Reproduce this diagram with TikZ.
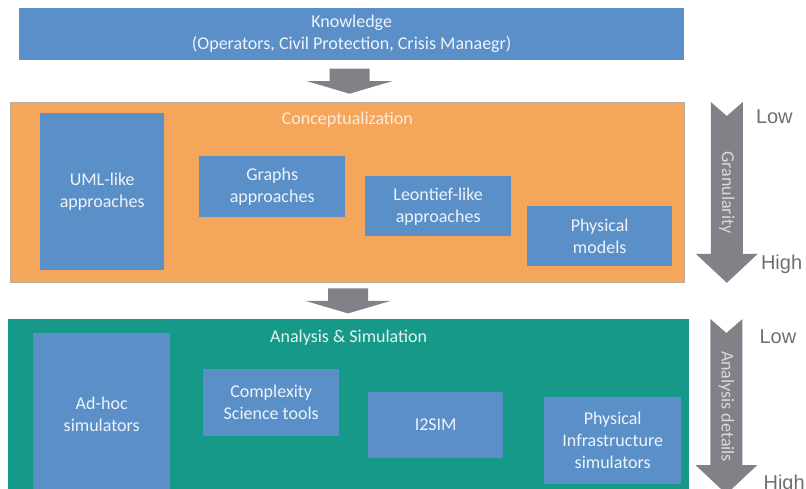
\documentclass[tikz,border=0pt]{standalone}
\usepackage{fontspec}
\setmainfont{Carlito}
\newfontfamily\lvlfont{Liberation Sans}
\usepackage{tikz}
\usetikzlibrary{positioning, calc}

\definecolor{boxblue}{HTML}{5B8FC8}
\definecolor{boxtext}{HTML}{EEF3FA}
\definecolor{concorange}{HTML}{F6A65B}
\definecolor{concline}{HTML}{B9ADA3}
\definecolor{conctext}{HTML}{FDEBD8}
\definecolor{anlteal}{HTML}{17998A}
\definecolor{anltext}{HTML}{E3F3F0}
\definecolor{arrowgray}{HTML}{808287}
\definecolor{sidetext}{HTML}{DADADA}
\definecolor{lvlgray}{HTML}{6E6E6E}

\begin{document}
\begin{tikzpicture}[
    x=1pt, y=1pt,
    band/.style={rectangle, anchor=north west, inner sep=0pt, align=center, font=\fontsize{18}{22}\selectfont},
    box/.style={rectangle, fill=boxblue, inner sep=0pt, align=center, text=boxtext, font=\fontsize{18}{22}\selectfont},
    tag/.style={inner sep=0pt, font=\fontsize{18}{22}\selectfont},
    flow/.style={fill=arrowgray},
    side/.style={inner sep=0pt, rotate=-90, text=sidetext, font=\fontsize{18}{22}\selectfont},
    lvl/.style={anchor=west, inner sep=0pt, text=lvlgray, font=\lvlfont\fontsize{20}{24}\selectfont}
]
    \useasboundingbox (0,0) rectangle (806,-488);
    \clip (0,0) rectangle (806,-488);

    % Knowledge bar
    \node (know) [band, fill=boxblue, text=boxtext, minimum width=665pt, minimum height=52pt] at (19,-8) {Knowledge\\(Operators, Civil Protection, Crisis Manaegr)};

    % Conceptualization layer
    \node (conc) [band, fill=concorange, draw=concline, line width=0.8pt, minimum width=674pt, minimum height=180pt] at (10,-102) {};
    \node (conctag) [tag, text=conctext] at ($(conc.north)+(0,-18)$) {Conceptualization};
    \node (uml) [box, below right=11pt and 30pt of conc.north west, minimum width=124pt, minimum height=157pt] {UML-like\\approaches};
    \node (graphs) [box, below right=54pt and 189pt of conc.north west, minimum width=146pt, minimum height=61pt] {Graphs\\approaches};
    \node (leon) [box, below right=74pt and 355pt of conc.north west, minimum width=146pt, minimum height=60pt] {Leontief-like\\approaches};
    \node (phys) [box, below right=104pt and 517pt of conc.north west, minimum width=145pt, minimum height=60pt] {Physical\\models};

    % Analysis & Simulation layer
    \node (anl) [band, fill=anlteal, minimum width=681pt, minimum height=190pt] at (8,-319) {};
    \node (anltag) [tag, text=anltext] at ($(anl.north)+(0,-19)$) {Analysis \& Simulation};
    \node (adhoc) [box, below right=14pt and 25pt of anl.north west, minimum width=137pt, minimum height=162pt] {Ad-hoc\\simulators};
    \node (cplx) [box, below right=50pt and 195pt of anl.north west, minimum width=136pt, minimum height=67pt] {Complexity\\Science tools};
    \node (i2sim) [box, below right=73pt and 360pt of anl.north west, minimum width=135pt, minimum height=66pt] {I2SIM};
    \node (pinf) [box, below right=78pt and 536pt of anl.north west, minimum width=137pt, minimum height=87pt] {Physical\\Infrastructure\\simulators};

    % Arrows between layers
    \coordinate (a1) at ($(know.south)!0.5!(conc.north)$);
    \coordinate (a2) at ($(conc.south)!0.5!(anl.north)$);
    \fill[flow] ($(a1)+(-20,12.5)$) -- ++(40,0) -- ++(0,-12.5) -- ++(22.5,0) -- ($(a1)+(0,-12.5)$) -- ++(-42.5,12.5) -- ++(22.5,0) -- cycle;
    \fill[flow] ($(a2)+(-20,12.5)$) -- ++(40,0) -- ++(0,-12.5) -- ++(22.5,0) -- ($(a2)+(0,-12.5)$) -- ++(-42.5,12.5) -- ++(22.5,0) -- cycle;

    % Granularity arrow
    \coordinate (gtop) at ($(conc.north east)+(42,0)$);
    \coordinate (gtip) at ($(conc.south east)+(42,0)$);
    \fill[flow] ($(gtop)+(-16,0)$) -- ($(gtop)+(0,-14)$) -- ($(gtop)+(16,0)$) -- ($(gtip)+(16,29)$) -- ($(gtip)+(31,29)$) -- (gtip) -- ($(gtip)+(-31,29)$) -- ($(gtip)+(-16,29)$) -- cycle;
    \node (gran) [side] at ($(gtop)!0.5!(gtip)$) {Granularity};
    \node (glow) [lvl] at ($(gtop)+(29,-15)$) {Low};
    \node (ghigh) [lvl] at ($(gtip)+(34,18)$) {High};

    % Analysis details arrow
    \coordinate (dtop) at ($(anl.north east)+(37,0)$);
    \coordinate (dtip) at ($(dtop)+(0,-175)$);
    \fill[flow] ($(dtop)+(-16,0)$) -- ($(dtop)+(0,-14)$) -- ($(dtop)+(16,0)$) -- ($(dtip)+(16,29)$) -- ($(dtip)+(31,29)$) -- (dtip) -- ($(dtip)+(-31,29)$) -- ($(dtip)+(-16,29)$) -- cycle;
    \node (det) [side] at ($(dtop)!0.5!(dtip)$) {Analysis details};
    \node (dlow) [lvl] at ($(dtop)+(33,-18)$) {Low};
    \node (dhigh) [lvl] at ($(dtip)+(37,10)$) {High};

\end{tikzpicture}
\end{document}
